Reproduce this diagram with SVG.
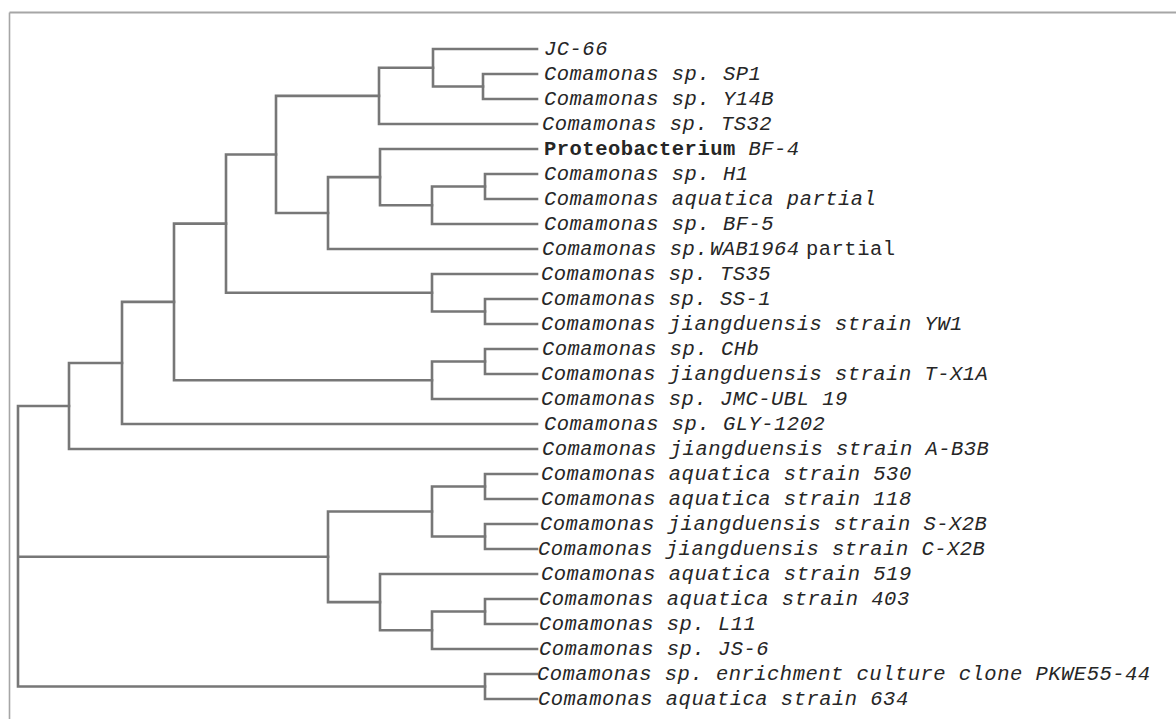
<svg xmlns="http://www.w3.org/2000/svg" width="1176" height="719" viewBox="0 0 1176 719">
<style>
.frame{stroke:#a6a6a6;fill:none}
.br{fill:none;stroke:#777777;stroke-width:2.6;stroke-linecap:square;stroke-linejoin:miter}
.lb{font-family:"Liberation Mono",monospace;font-style:italic;font-size:20.5px;letter-spacing:0.48px;fill:#262626}
.up{font-style:normal}
.bd{font-style:normal;font-weight:bold}
</style>
<rect width="1176" height="719" fill="#ffffff"/>
<path class="frame" stroke-width="2.2" d="M9.5,12.5 H1176"/>
<path class="frame" stroke-width="1.6" d="M9.5,12.5 V719"/>
<g id="connectors">
<path class="br" d="M537,74 H483 V99 H537"/>
<path class="br" d="M537,49 H433 V86.5 H483"/>
<path class="br" d="M433,67.75 H379 V124 H537"/>
<path class="br" d="M537,174 H485 V199 H537"/>
<path class="br" d="M485,186.5 H432 V224 H537"/>
<path class="br" d="M537,149 H380 V205.25 H432"/>
<path class="br" d="M380,177.1 H328 V249 H537"/>
<path class="br" d="M379,95.9 H276 V213 H328"/>
<path class="br" d="M537,299 H485 V324 H537"/>
<path class="br" d="M537,274 H432 V311.5 H485"/>
<path class="br" d="M276,154.5 H226 V292.75 H432"/>
<path class="br" d="M537,349 H485 V374 H537"/>
<path class="br" d="M485,361.5 H432 V399 H537"/>
<path class="br" d="M226,223.6 H174 V380.25 H432"/>
<path class="br" d="M174,301.9 H122 V424 H537"/>
<path class="br" d="M122,363 H69 V449 H537"/>
<path class="br" d="M537,474 H485 V499 H537"/>
<path class="br" d="M537,524 H485 V549 H537"/>
<path class="br" d="M485,486.5 H432 V536.5 H485"/>
<path class="br" d="M537,599 H485 V624 H537"/>
<path class="br" d="M485,611.5 H432 V649 H537"/>
<path class="br" d="M537,574 H380 V630.25 H432"/>
<path class="br" d="M432,511.5 H328 V602.1 H380"/>
<path class="br" d="M537,674 H485 V699 H537"/>
<path class="br" d="M69,406 H18 V686.5 H485 M18,556.8 H328"/>
</g>
<g id="leaf-jc66"><text class="lb" x="544" y="55">JC-66</text></g>
<g id="leaf-sp1"><text class="lb" x="544" y="80">Comamonas sp. SP1</text></g>
<g id="leaf-y14b"><text class="lb" x="544" y="105">Comamonas sp. Y14B</text></g>
<g id="leaf-ts32"><text class="lb" x="542" y="130">Comamonas sp. TS32</text></g>
<g id="leaf-bf4"><text class="lb" x="544" y="155"><tspan class="bd">Proteobacterium</tspan> BF-4</text></g>
<g id="leaf-h1"><text class="lb" x="544" y="180">Comamonas sp. H1</text></g>
<g id="leaf-aqpartial"><text class="lb" x="544" y="205">Comamonas aquatica partial</text></g>
<g id="leaf-bf5"><text class="lb" x="544" y="230">Comamonas sp. BF-5</text></g>
<g id="leaf-wab1964"><text class="lb" x="542" y="255">Comamonas sp.<tspan x="710">WAB1964</tspan><tspan class="up" x="806">partial</tspan></text></g>
<g id="leaf-ts35"><text class="lb" x="541" y="280">Comamonas sp. TS35</text></g>
<g id="leaf-ss1"><text class="lb" x="541" y="305">Comamonas sp. SS-1</text></g>
<g id="leaf-yw1"><text class="lb" x="541" y="330">Comamonas jiangduensis strain YW1</text></g>
<g id="leaf-chb"><text class="lb" x="542" y="355">Comamonas sp. CHb</text></g>
<g id="leaf-tx1a"><text class="lb" x="541" y="380">Comamonas jiangduensis strain T-X1A</text></g>
<g id="leaf-jmc"><text class="lb" x="541" y="405">Comamonas sp. JMC-UBL 19</text></g>
<g id="leaf-gly"><text class="lb" x="544" y="430">Comamonas sp. GLY-1202</text></g>
<g id="leaf-ab3b"><text class="lb" x="542" y="455">Comamonas jiangduensis strain A-B3B</text></g>
<g id="leaf-530"><text class="lb" x="541" y="480">Comamonas aquatica strain 530</text></g>
<g id="leaf-118"><text class="lb" x="541" y="505">Comamonas aquatica strain 118</text></g>
<g id="leaf-sx2b"><text class="lb" x="540" y="530">Comamonas jiangduensis strain S-X2B</text></g>
<g id="leaf-cx2b"><text class="lb" x="538" y="555">Comamonas jiangduensis strain C-X2B</text></g>
<g id="leaf-519"><text class="lb" x="541" y="580">Comamonas aquatica strain 519</text></g>
<g id="leaf-403"><text class="lb" x="539" y="605">Comamonas aquatica strain 403</text></g>
<g id="leaf-l11"><text class="lb" x="539" y="630">Comamonas sp. L11</text></g>
<g id="leaf-js6"><text class="lb" x="539" y="655">Comamonas sp. JS-6</text></g>
<g id="leaf-pkwe"><text class="lb" x="537" y="680">Comamonas sp. enrichment culture clone PKWE55-44</text></g>
<g id="leaf-634"><text class="lb" x="538" y="705">Comamonas aquatica strain 634</text></g>
</svg>
